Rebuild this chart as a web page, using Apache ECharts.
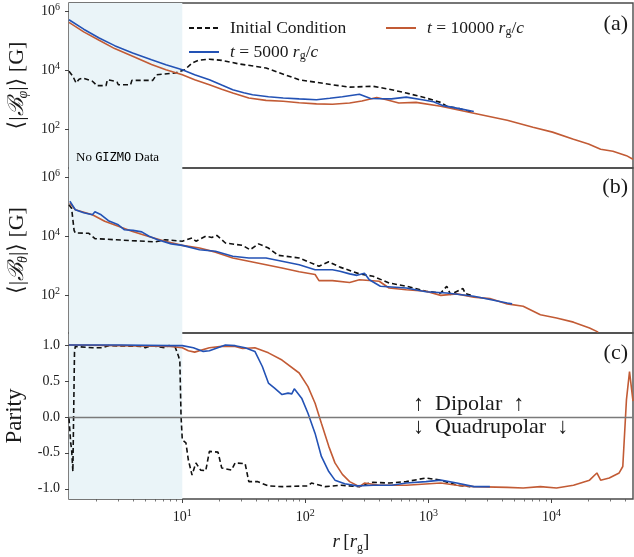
<!DOCTYPE html>
<html><head><meta charset="utf-8">
<script src="https://cdn.jsdelivr.net/npm/echarts@6/dist/echarts.min.js"></script>
<style>html,body{margin:0;padding:0;background:#fff}#chart{width:634px;height:557px}</style>
</head><body><div id="chart"></div>
<script>
// ---------- DATA ----------
// Panel (a): <|B_phi|> [G]
const aInitR = [1.2,1.29,1.37,1.45,1.55,1.86,1.95,2.0,2.4,2.46,2.82,2.95,3.02,3.8,3.89,5.75,6.17,8.71,10.5,12.0,13.5,16.6,20.9,28.8,47.9,89.1,166,229,355,479,661,955,1260,1410,1780,2240];
const aInitV = [9330,6310,3720,5010,5500,4270,3550,3020,3020,4790,4270,3980,3240,3240,4570,4570,7080,8130,10500,17800,21900,24000,21900,16600,12000,4790,3240,2690,2880,2290,1700,1150,813,603,501,380];
const a5000R = [1.2,1.58,2.11,2.82,3.95,5.62,7.36,10,12.6,16.6,20.9,25.7,31.6,37.2,50.1,66.1,89.1,123,158,200,275,339,501,661,891,1100,1320,1780,2340];
const a5000V = [525000,251000,126000,69200,38900,22900,15500,10500,7080,4790,3160,2190,1740,1480,1260,1150,1070,1000,1120,1260,1550,1100,1070,1230,1000,851,631,501,398];
const a10000R = [1.2,1.58,2.11,2.82,3.95,5.62,7.36,10,12.6,16.6,20.9,25.7,34.7,47.9,66.1,89.1,123,166,229,288,380,457,575,794,1260,2340,4370,7080,10200,15100,20000,25100,31600,40700,46000];
const a10000V = [427000,204000,105000,55000,30200,15800,10500,7080,4790,3240,2290,1700,1150,955,891,794,724,708,776,912,1200,1000,776,813,603,347,200,117,79.4,45.7,31.6,20.9,17.8,12.6,9.55];

// Panel (b): <|B_theta|> [G]
const bInitR = [1.2,1.26,1.28,1.32,1.35,1.74,1.95,3.89,6.03,7.24,10,12.0,12.9,15.5,17.4,19.1,22.4,30.9,35.5,41.7,50.1,60.3,89.1,129,155,191,275,355,479,661,955,1260,1410,1510,1910,2000,2340];
const bInitV = [117000,89100,79400,15800,12900,12600,8320,7080,6460,7590,6760,8710,6760,10000,9120,10700,5890,4900,3470,5500,3980,2240,1820,955,1350,891,525,437,257,200,135,117,200,105,166,112,91.2];
const b5000R = [1.22,1.35,1.58,1.86,1.95,2.19,2.51,3.02,3.39,3.98,4.68,5.37,6.31,8.13,10,13.8,18.6,25.7,34.7,47.9,64.6,89.1,120,166,191,229,263,302,331,407,661,955,1410,2340,4370,4790];
const b5000V = [155000,79400,63100,53700,67600,53700,33900,24500,16600,15800,14100,10000,7590,5500,4900,3470,3090,2090,1820,1820,1410,1070,724,724,646,525,468,550,331,200,174,129,117,91.2,53.7,50.1];
const b10000R = [1.22,1.35,1.86,2.34,3.02,3.89,5.25,7.24,10,13.8,18.6,25.7,34.7,47.9,64.6,89.1,120,129,166,229,275,398,479,661,955,1260,1700,2340,3160,4370,5890,8130,11000,15100,20400,24000];
const b10000V = [135000,79400,53700,32400,21900,14800,10000,6760,4900,3980,2880,1820,1410,1070,832,617,501,309,309,269,331,295,174,151,135,97.7,110,85.1,75.9,50.1,41.7,21.4,16.6,12.0,7.59,5.5];

// Panel (c): parity
const cInitR = [1.2,1.24,1.26,1.29,1.33,1.35,1.86,2.24,2.51,4.68,5.01,5.62,7.24,7.76,8.71,9.33,9.55,9.77,10,10.7,11.2,12.0,12.9,14.1,15.5,16.6,19.5,20.9,25.1,26.9,32.4,34.7,40.7,50.1,64.6,105,112,145,195,229,275,316,355,479,661,955,1260,1700,2190];
const cInitV = [-0.02,-0.37,-0.45,-0.76,0.9,0.98,0.96,0.96,0.99,0.98,0.96,0.99,0.96,0.99,0.98,0.84,0.77,0.0,-0.32,-0.36,-0.60,-0.81,-0.64,-0.74,-0.75,-0.48,-0.49,-0.71,-0.74,-0.64,-0.65,-0.90,-0.90,-0.96,-0.97,-0.96,-0.92,-0.97,-0.95,-0.96,-0.97,-0.93,-0.91,-0.92,-0.90,-0.85,-0.88,-0.95,-0.97];
const c5000R = [1.2,3.16,7.94,10,12.3,14.8,16.6,22.4,26.9,32.4,38.9,44.7,50.1,56.2,64.6,72.4,77.6,81.3,93.3,105,120,135,155,174,209,263,355,501,661,955,1260,1700,2340,3160];
const c5000V = [1.0,1.0,0.99,0.99,0.96,0.91,0.92,1.0,0.99,0.96,0.91,0.70,0.47,0.40,0.31,0.33,0.32,0.39,0.26,0.05,-0.23,-0.55,-0.76,-0.88,-0.93,-0.96,-0.95,-0.95,-0.92,-0.90,-0.88,-0.92,-0.97,-0.97];
const c10000R = [1.2,3.16,7.94,10,11.2,12.6,16.6,20.9,26.9,30.9,38.9,50.1,64.6,89.1,105,120,135,155,174,200,229,275,302,398,661,1260,1700,2340,4370,5890,8130,11000,15100,20400,23400,25100,29500,35500,38000,40700,43100,44700,46000];
const c10000V = [1.0,0.99,0.98,0.96,0.92,0.90,0.96,0.98,0.98,0.95,0.96,0.89,0.79,0.61,0.42,0.19,-0.09,-0.41,-0.64,-0.80,-0.90,-0.97,-0.92,-0.95,-0.95,-0.92,-0.95,-0.97,-0.98,-0.99,-0.97,-0.99,-0.95,-0.88,-0.78,-0.88,-0.85,-0.78,-0.69,0.24,0.63,0.61,0.22];

// Tick positions
const X_TICKS = [10, 100, 1000, 10000];
const X_MINOR_TICKS = [2,3,4,5,6,7,8,9,20,30,40,50,60,70,80,90,200,300,400,500,600,700,800,900,2000,3000,4000,5000,6000,7000,8000,9000,20000,30000,40000];
const B_TICKS = [100, 10000, 1000000];
const PARITY_TICKS = [-1.0, -0.5, 0.0, 0.5, 1.0];

const X_MIN = 1.2, X_MAX = 46000;
const GIZMO_LIMIT = 10;
const A_RANGE = [4.79, 1.95e6];
const B_RANGE = [5.13, 2.09e6];
const C_RANGE = [-1.142, 1.166];
const SERIES_NAMES = ['Initial Condition', 't5000', 't10000'];

// ---------- STYLE ----------
const FONT = '"Liberation Serif", "DejaVu Serif", serif';
const INK = '#1a1a1a';
const COL_INIT = '#111111', COL_5000 = '#2352b5', COL_10000 = '#c25b35';
const SHADE = '#eaf4f8';

const pair = (r, v) => r.map((x, i) => [x, v[i]]);
const powLabel = v => '{b|10}{sup|' + Math.round(Math.log10(v)) + '}';
const powRich = { b: { fontFamily: FONT, fontSize: 14, color: INK, lineHeight: 18 }, sup: { fontFamily: FONT, fontSize: 10, color: INK, verticalAlign: 'top', lineHeight: 10 } };

function line(name, idx, r, v, color, dashed) {
  return {
    type: 'line', name, xAxisIndex: idx, yAxisIndex: idx,
    data: pair(r, v), symbol: 'none', showSymbol: false, smooth: false,
    lineStyle: { color, width: 1.6, type: dashed ? [5, 3] : 'solid' },
    itemStyle: { color }, z: 3, silent: true
  };
}
function shade(idx) {
  return {
    type: 'line', name: 'shade' + idx, xAxisIndex: idx, yAxisIndex: idx, data: [], z: 1, silent: true,
    markArea: { silent: true, itemStyle: { color: SHADE }, data: [[{ xAxis: X_MIN }, { xAxis: GIZMO_LIMIT }]] }
  };
}

const grids = [
  { left: 69, right: 1, top: 3, height: 165 },
  { left: 69, right: 1, top: 168, height: 165 },
  { left: 69, right: 1, top: 333, height: 166 }
].map(g => Object.assign(g, { show: true, containLabel: false, outerBoundsMode: 'none', borderColor: '#4a4a4a', borderWidth: 1.4, backgroundColor: 'transparent' }));

function xAxis(idx, showLabels) {
  return {
    type: 'log', logBase: 10, gridIndex: idx, min: X_MIN, max: X_MAX, position: 'bottom',
    axisLine: { show: false, onZero: false }, splitLine: { show: false },
    axisTick: { show: showLabels, length: 4, customValues: X_TICKS, lineStyle: { color: '#444' } },
    axisLabel: { show: showLabels, margin: 9, customValues: X_TICKS, formatter: powLabel, rich: powRich },
    name: showLabels ? '{i|r} {n|[}{i|r}{s|g}{n|]}' : '',
    nameLocation: 'middle', nameGap: 31,
    nameTextStyle: {
      rich: {
        i: { fontFamily: FONT, fontStyle: 'italic', fontSize: 19, color: INK, lineHeight: 24 },
        n: { fontFamily: FONT, fontSize: 19, color: INK, lineHeight: 24 },
        s: { fontFamily: FONT, fontSize: 12, color: INK, verticalAlign: 'bottom', lineHeight: 12 }
      }
    }
  };
}
const minorXAxis = {
  type: 'log', logBase: 10, gridIndex: 2, min: X_MIN, max: X_MAX, position: 'bottom', offset: 0,
  axisLine: { show: false, onZero: false }, splitLine: { show: false }, axisLabel: { show: false },
  axisTick: { show: true, length: 2.5, customValues: X_MINOR_TICKS, lineStyle: { color: '#555', width: 0.8 } }
};
function logY(idx, range, nameSub) {
  return {
    type: 'log', logBase: 10, gridIndex: idx, min: range[0], max: range[1],
    axisLine: { show: false, onZero: false }, splitLine: { show: false },
    axisTick: { show: true, length: 4, customValues: B_TICKS, lineStyle: { color: '#444' } },
    axisLabel: { margin: 9, customValues: B_TICKS, formatter: powLabel, rich: powRich },
    name: '{n|\u27E8|}{b|\u212C}{s|' + nameSub + '}{n||\u27E9 [G]}',
    nameLocation: 'middle', nameRotate: 90, nameGap: 29,
    nameTextStyle: {
      rich: {
        n: { fontFamily: FONT, fontSize: 22, color: INK, lineHeight: 26 },
        b: { fontFamily: FONT, fontStyle: 'italic', fontSize: 22, color: INK, lineHeight: 26 },
        s: { fontFamily: FONT, fontStyle: 'italic', fontSize: 14, color: INK, verticalAlign: 'bottom', lineHeight: 13 }
      }
    }
  };
}
const yAxes = [
  logY(0, A_RANGE, '\u03C6'),
  logY(1, B_RANGE, '\u03B8'),
  {
    type: 'value', gridIndex: 2, min: C_RANGE[0], max: C_RANGE[1],
    axisLine: { show: false, onZero: false }, splitLine: { show: false },
    axisTick: { show: true, length: 4, customValues: PARITY_TICKS, lineStyle: { color: '#444' } },
    axisLabel: {
      margin: 9, customValues: PARITY_TICKS, fontFamily: FONT, fontSize: 14, color: INK,
      formatter: v => v.toFixed(1)
    },
    name: 'Parity', nameLocation: 'middle', nameRotate: 90, nameGap: 27,
    nameTextStyle: { fontFamily: FONT, fontSize: 23, color: INK }
  }
];

const legendRich = {
  n: { fontFamily: FONT, fontSize: 17.5, color: INK, lineHeight: 20 },
  i: { fontFamily: FONT, fontStyle: 'italic', fontSize: 17.5, color: INK, lineHeight: 20 },
  s: { fontFamily: FONT, fontSize: 12, color: INK, verticalAlign: 'bottom', lineHeight: 12 }
};
const legendFmt = name => {
  if (name === 't5000') return '{i|t}{n| = 5000 }{i|r}{s|g}{n|/}{i|c}';
  if (name === 't10000') return '{i|t}{n| = 10000 }{i|r}{s|g}{n|/}{i|c}';
  return '{n|' + name + '}';
};
const legendBase = {
  orient: 'vertical', top: 14, itemWidth: 30, itemHeight: 14, itemGap: 4,
  formatter: legendFmt, selectedMode: false,
  itemStyle: { opacity: 0 },
  textStyle: { fontFamily: FONT, fontSize: 17.5, color: INK, rich: legendRich, padding: [0, 0, 0, 6] }
};

const series = [
  shade(0), shade(1), shade(2),
  line(SERIES_NAMES[0], 0, aInitR, aInitV, COL_INIT, true),
  line(SERIES_NAMES[2], 0, a10000R, a10000V, COL_10000, false),
  line(SERIES_NAMES[1], 0, a5000R, a5000V, COL_5000, false),
  line(SERIES_NAMES[0], 1, bInitR, bInitV, COL_INIT, true),
  line(SERIES_NAMES[2], 1, b10000R, b10000V, COL_10000, false),
  line(SERIES_NAMES[1], 1, b5000R, b5000V, COL_5000, false),
  Object.assign(line(SERIES_NAMES[0], 2, cInitR, cInitV, COL_INIT, true), {
    markLine: { silent: true, symbol: 'none', label: { show: false }, lineStyle: { color: '#7a7a7a', width: 1.3, type: 'solid' }, data: [{ yAxis: 0 }] }
  }),
  line(SERIES_NAMES[2], 2, c10000R, c10000V, COL_10000, false),
  line(SERIES_NAMES[1], 2, c5000R, c5000V, COL_5000, false)
];

const txt = (opts, text, size) => Object.assign({ type: 'text', z: 10, style: { text, font: size + 'px ' + FONT, fill: INK } }, opts);

const option = {
  animation: false,
  backgroundColor: '#ffffff',
  grid: grids,
  xAxis: [xAxis(0, false), xAxis(1, false), xAxis(2, true), minorXAxis],
  yAxis: yAxes,
  legend: [
    Object.assign({}, legendBase, { left: 183, itemGap: 6, data: [SERIES_NAMES[0], SERIES_NAMES[1]] }),
    Object.assign({}, legendBase, { left: 380, data: [SERIES_NAMES[2]] })
  ],
  series,
  graphic: [
    txt({ right: 6, top: 13 }, '(a)', 22),
    txt({ right: 6, top: 176 }, '(b)', 22),
    txt({ right: 6, top: 342 }, '(c)', 22),
    { type: 'text', left: 76, top: 151, z: 10, style: {
        text: '{n|No }{m|GIZMO}{n| Data}',
        rich: { n: { fontFamily: FONT, fontSize: 13, color: INK }, m: { fontFamily: '"DejaVu Sans Mono", "Liberation Mono", monospace', fontSize: 12, color: INK } }
    } },
    txt({ left: 413, top: 393 }, '\u2191  Dipolar  \u2191', 22),
    txt({ left: 413, top: 416 }, '\u2193  Quadrupolar  \u2193', 22)
  ]
};

const chart = echarts.init(document.getElementById('chart'), null, { renderer: 'canvas' });
chart.setOption(option);
</script>
</body></html>
